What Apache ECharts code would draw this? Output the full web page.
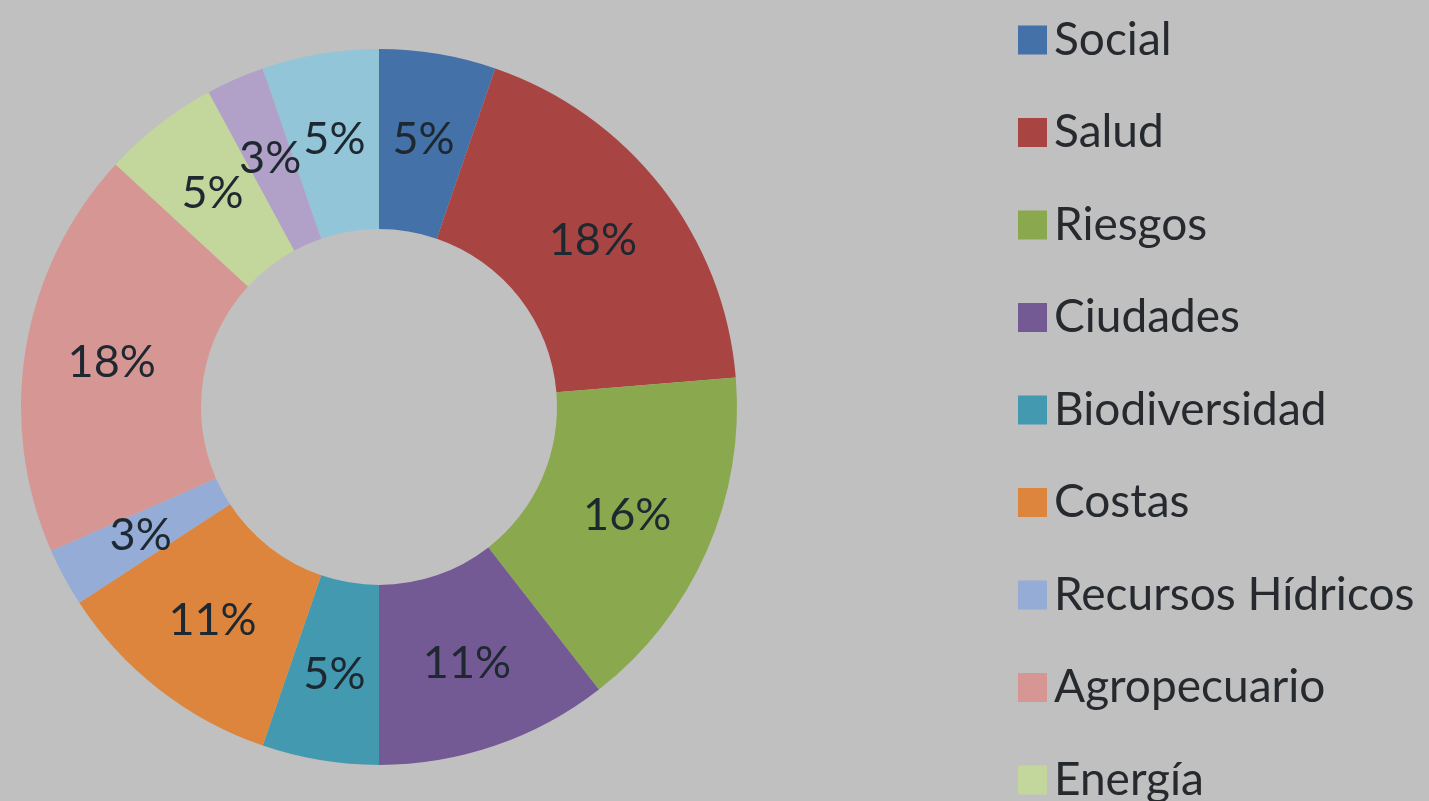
<!DOCTYPE html>
<html>
<head>
<meta charset="utf-8">
<script src="https://cdn.jsdelivr.net/npm/echarts@6/dist/echarts.min.js"></script>
<style>
    html, body { margin: 0; padding: 0; background: #c0c0c0; }
    #chart { width: 1429px; height: 801px; }
</style>
</head>
<body>
<div id="chart"></div>
<script>
// categorías y valores (conteos, el gráfico muestra %)
const categorias = ['Social', 'Salud', 'Riesgos', 'Ciudades', 'Biodiversidad', 'Costas',
    'Recursos Hídricos', 'Agropecuario', 'Energía', 'Turismo', 'Educación'];
const valores = [2, 7, 6, 4, 2, 4, 1, 7, 2, 1, 2];
const colores = ['#4471a8', '#a84442', '#8aa84e', '#735a94', '#439ab0', '#dd853c',
    '#95acd6', '#d69694', '#c3d69b', '#b1a0c7', '#92c5d8'];
// la leyenda visible llega solo hasta Energía
const leyenda = categorias.slice(0, 9);

const chart = echarts.init(document.getElementById('chart'));

chart.setOption({
    backgroundColor: '#c0c0c0',
    animation: false,
    legend: {
        orient: 'vertical',
        left: 1013,
        top: 10,
        height: 1200,
        data: leyenda,
        icon: 'rect',
        itemWidth: 29,
        itemHeight: 29,
        itemGap: 42.5,
        textStyle: {
            fontFamily: 'Lato',
            fontSize: 46,
            lineHeight: 50,
            color: '#262a2e',
            padding: [0, 0, 0, 2]
        }
    },
    series: [{
        type: 'pie',
        center: [379, 407],
        radius: [178, 358],
        startAngle: 90,
        clockwise: true,
        avoidLabelOverlap: false,
        labelLayout: { hideOverlap: false },
        itemStyle: { borderWidth: 0 },
        label: {
            show: true,
            position: 'inside',
            fontFamily: 'Lato',
            fontSize: 45,
            color: '#1e2830',
            formatter: p => Math.round(p.percent) + '%'
        },
        labelLine: { show: false },
        data: categorias.map((c, i) => ({
            name: c,
            value: valores[i],
            itemStyle: { color: colores[i] }
        }))
    }]
});
</script>
</body>
</html>
